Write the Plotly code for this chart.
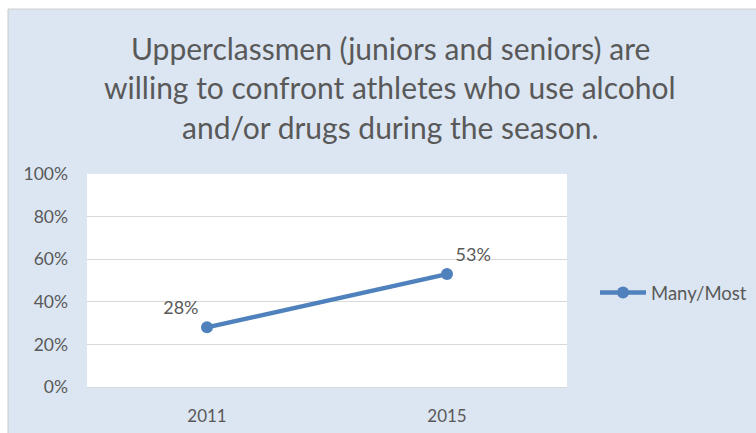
import plotly.graph_objects as go

# Survey results
years = ["2011", "2015"]
many_most = [0.28, 0.53]
value_labels = ["28%", "53%"]
series_name = "Many/Most"
title_lines = [
    "Upperclassmen (juniors and seniors) are",
    "willing to confront athletes who use alcohol",
    "and/or drugs during the season.",
]
y_ticks = [0, 0.2, 0.4, 0.6, 0.8, 1.0]
y_tick_text = ["0%", "20%", "40%", "60%", "80%", "100%"]

W, H = 756, 433
ML, MR, MT, MB = 87, 189, 174, 46
PW, PH = W - ML - MR, H - MT - MB

BG = "#dce6f2"
LINE = "#4f81bd"
TXT = "#595959"
GRID = "#d9d9d9"
FONT = "Lato, 'Open Sans', sans-serif"


def px_x(x):
    return (x - ML) / PW


def px_y(y):
    return (H - MB - y) / PH


fig = go.Figure()
fig.add_trace(go.Scatter(
    x=years, y=many_most, name=series_name,
    mode="lines+markers+text",
    line=dict(color=LINE, width=4.5),
    marker=dict(color=LINE, size=12),
    text=value_labels,
    textposition=["top left", "top right"],
    textfont=dict(family=FONT, size=18, color=TXT),
    cliponaxis=False,
))

shapes = [
    # white margin strips around the chart area
    dict(type="rect", xref="paper", yref="paper", x0=px_x(-5), x1=px_x(W + 5),
         y0=px_y(9), y1=px_y(-5), fillcolor="white", line=dict(width=0), layer="below"),
    dict(type="rect", xref="paper", yref="paper", x0=px_x(-5), x1=px_x(8),
         y0=px_y(H + 5), y1=px_y(-5), fillcolor="white", line=dict(width=0), layer="below"),
    dict(type="line", xref="paper", yref="paper", x0=px_x(8), x1=px_x(W + 5),
         y0=px_y(9), y1=px_y(9), line=dict(color="#d0d0d0", width=1), layer="below"),
    dict(type="line", xref="paper", yref="paper", x0=px_x(8), x1=px_x(8),
         y0=px_y(9), y1=px_y(H + 5), line=dict(color="#c8c8c8", width=1), layer="below"),
]

annotations = []
for i, line in enumerate(title_lines):
    annotations.append(dict(
        text=line, xref="paper", yref="paper",
        x=px_x(390), y=px_y([48, 87, 127][i]),
        xanchor="center", yanchor="middle", showarrow=False,
        font=dict(family=FONT, size=30, color=TXT),
    ))

fig.update_layout(
    width=W, height=H,
    margin=dict(l=ML, r=MR, t=MT, b=MB, autoexpand=False),
    paper_bgcolor=BG, plot_bgcolor="white",
    shapes=shapes, annotations=annotations,
    showlegend=True,
    legend=dict(x=px_x(595), y=px_y(293), xanchor="left", yanchor="middle",
                itemwidth=46,
                font=dict(family=FONT, size=18.5, color=TXT),
                bgcolor="rgba(0,0,0,0)"),
    xaxis=dict(range=[-0.5, 1.5], showgrid=False, zeroline=False,
               showline=True, linecolor=GRID, linewidth=1,
               ticks="", tickfont=dict(family=FONT, size=17, color=TXT),
               ticklabelstandoff=14, fixedrange=True),
    yaxis=dict(range=[0, 1], tickvals=y_ticks, ticktext=y_tick_text,
               showgrid=True, gridcolor=GRID, gridwidth=1, zeroline=False,
               showline=False, ticks="",
               tickfont=dict(family=FONT, size=17.5, color=TXT),
               ticklabelstandoff=18, fixedrange=True),
)

fig.write_html("out.html")
